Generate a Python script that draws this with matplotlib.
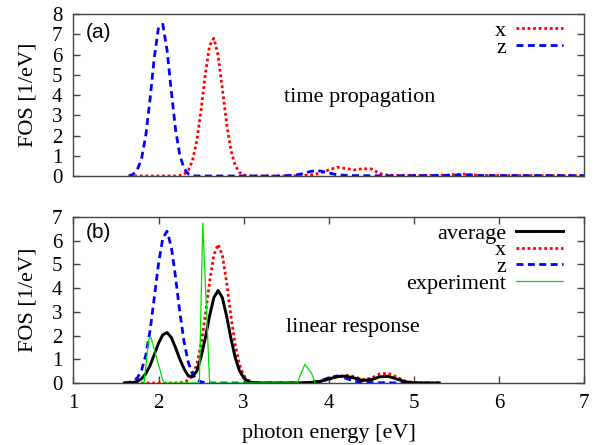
import matplotlib
matplotlib.use("Agg")
from matplotlib import pyplot as plt

plt.rcParams['font.family'] = ['Liberation Serif', 'DejaVu Serif']

# (a) time propagation
e_top = [1.65, 1.70, 1.75, 1.80, 1.85, 1.90, 1.95, 2.00, 2.05, 2.10, 2.15, 2.20,
         2.25, 2.30, 2.35, 2.40, 2.45, 2.50, 2.55, 2.60, 2.65, 2.70, 2.75, 2.80,
         2.85, 2.90, 2.95, 3.00, 3.05, 3.10,
         3.2, 3.3, 3.4, 3.5, 3.6, 3.7, 3.8, 3.9, 4.0, 4.1, 4.2, 4.3, 4.4, 4.5,
         4.6, 4.7, 4.8, 5.0, 5.2, 5.4, 5.5, 5.6, 5.7, 5.8, 6.0, 6.2, 6.4, 6.6,
         6.8, 7.0]
top_x = [0, 0, 0, 0, 0, 0, 0, 0, 0, 0, 0, 0,
         0.02, 0.09, 0.28, 0.77, 1.74, 3.26, 5.03, 6.43, 6.80, 5.96, 4.32, 2.60,
         1.29, 0.53, 0.18, 0.05, 0.01, 0,
         0, 0, 0, 0, 0.01, 0.02, 0.06, 0.14, 0.30, 0.43, 0.37, 0.30, 0.36, 0.35,
         0.12, 0.04, 0.03, 0.03, 0.03, 0.05, 0.08, 0.09, 0.06, 0.03, 0.02, 0.02,
         0.02, 0.02, 0.02, 0.02]
top_z = [0, 0.08, 0.30, 0.85, 1.99, 3.78, 5.85, 7.34, 7.49, 6.22, 4.20, 2.30,
         1.03, 0.37, 0.10, 0.02, 0, 0, 0, 0, 0, 0, 0, 0,
         0, 0, 0, 0, 0, 0,
         0, 0, 0, 0.02, 0.04, 0.12, 0.24, 0.25, 0.15, 0.06, 0.03, 0.02, 0.02, 0.01,
         0.01, 0.01, 0.01, 0.02, 0.02, 0.03, 0.05, 0.06, 0.04, 0.02, 0.02, 0.02,
         0.02, 0.02, 0.02, 0.02]

# (b) linear response
e_bot = [1.60, 1.65, 1.70, 1.75, 1.80, 1.85, 1.90, 1.95, 2.00, 2.05, 2.10, 2.15,
         2.20, 2.25, 2.30, 2.35, 2.40, 2.45, 2.50, 2.55, 2.60, 2.65, 2.70, 2.75,
         2.80, 2.85, 2.90, 2.95, 3.00, 3.05, 3.10, 3.15, 3.20,
         3.3, 3.4, 3.5, 3.6, 3.7, 3.8, 3.9, 4.0, 4.1, 4.2, 4.3, 4.4, 4.5, 4.6,
         4.7, 4.8, 4.9, 5.0, 5.1, 5.2, 5.3]
bot_avg = [0, 0.01, 0.02, 0.07, 0.18, 0.39, 0.73, 1.20, 1.68, 2.03, 2.13, 1.92,
           1.49, 1.01, 0.60, 0.30, 0.27, 0.50, 1.10, 1.90, 2.83, 3.60, 3.90, 3.60,
           2.83, 1.90, 1.09, 0.53, 0.22, 0.08, 0.02, 0.01, 0,
           0, 0, 0, 0, 0.01, 0.03, 0.07, 0.17, 0.27, 0.29, 0.21, 0.11, 0.14, 0.26,
           0.28, 0.17, 0.05, 0.01, 0, 0, 0]
bot_x = [0, 0, 0, 0, 0, 0, 0, 0, 0, 0, 0, 0,
         0, 0.01, 0.035, 0.12, 0.33, 0.79, 1.63, 2.85, 4.25, 5.40, 5.85, 5.40,
         4.25, 2.85, 1.63, 0.79, 0.33, 0.12, 0.035, 0.01, 0,
         0, 0, 0, 0, 0.01, 0.03, 0.07, 0.15, 0.26, 0.33, 0.27, 0.15, 0.20, 0.38,
         0.41, 0.25, 0.08, 0.02, 0.01, 0, 0]
bot_z = [0, 0.02, 0.07, 0.21, 0.53, 1.17, 2.20, 3.60, 5.03, 6.10, 6.40, 5.75,
         4.47, 3.00, 1.74, 0.87, 0.37, 0.14, 0.05, 0.01, 0, 0, 0, 0,
         0, 0, 0, 0, 0, 0, 0, 0, 0,
         0, 0, 0, 0, 0, 0.02, 0.08, 0.22, 0.30, 0.20, 0.08, 0.03, 0.02, 0.01,
         0.01, 0, 0, 0, 0, 0, 0]

e_exp = [1.80, 1.83, 1.885, 1.91, 2.06, 2.20, 2.40, 2.48, 2.52, 2.60, 2.62,
         2.80, 3.00, 3.20, 3.40, 3.63, 3.72, 3.80, 3.84]
exp_v = [0, 0, 1.86, 1.93, 0, 0, 0, 0, 6.75, 0.05, 0,
         0, 0, 0, 0, 0, 0.79, 0.41, 0]

red = '#ff0000'
blue = '#0000ff'
green = '#00dd00'
edge = '#444444'

fig = plt.figure(figsize=(6.02, 4.45), dpi=100)
ax1 = fig.add_axes([0.122, 0.6045, 0.848, 0.364])
ax2 = fig.add_axes([0.122, 0.1393, 0.848, 0.373])

leg_kw = dict(loc='upper right', frameon=False, markerfirst=False, fontsize=16,
              handlelength=2.1, handletextpad=0.45, labelspacing=-0.17,
              borderpad=0, borderaxespad=0)

ax1.plot(e_top, top_x, color=red, lw=2, ls=(0, (1, 1)), label='x')
ax1.plot(e_top, top_z, color=blue, lw=2, ls=(0, (2.5, 1.6)), label='z')
ax1.set_xlim(1, 7)
ax1.set_ylim(0, 8)
ax1.set_xticks([])
ax1.set_yticks(range(0, 9))
ax1.text(1.15, 7.1, '(a)', family=['Liberation Sans', 'DejaVu Sans'],
         fontsize=15, va='center', ha='left')
ax1.text(4.37, 3.9, 'time propagation', fontsize=16, ha='center', va='center')
ax1.set_ylabel('FOS [1/eV]', fontsize=16, labelpad=10)
ax1.legend(bbox_to_anchor=(0.959, 0.962), **leg_kw)

ax2.plot(e_bot, bot_x, color=red, lw=2, ls=(0, (1, 1)), label='x', zorder=2)
ax2.plot(e_bot, bot_z, color=blue, lw=2, ls=(0, (2.5, 1.6)), label='z', zorder=2)
ax2.plot(e_bot, bot_avg, color='black', lw=2.1, label='average', zorder=3)
ax2.plot(e_exp, exp_v, color=green, lw=0.9, label='experiment', zorder=4)
ax2.set_xlim(1, 7)
ax2.set_ylim(0, 7)
ax2.set_xticks(range(1, 8))
ax2.set_yticks(range(0, 8))
ax2.text(1.15, 6.33, '(b)', family=['Liberation Sans', 'DejaVu Sans'],
         fontsize=15, va='center', ha='left')
ax2.text(4.28, 2.36, 'linear response', fontsize=16, ha='center', va='center')
ax2.set_ylabel('FOS [1/eV]', fontsize=16, labelpad=10)
ax2.set_xlabel('photon energy [eV]', fontsize=16, labelpad=8)
h, l = ax2.get_legend_handles_labels()
order = [2, 0, 1, 3]
ax2.legend([h[i] for i in order], [l[i] for i in order],
           bbox_to_anchor=(0.959, 0.964), **leg_kw)

for ax in (ax1, ax2):
    for s in ax.spines.values():
        s.set_color(edge)
        s.set_linewidth(1)
    ax.tick_params(direction='in', length=5, width=1, color=edge,
                   labelsize=15, right=True, top=True, pad=8)

fig.savefig('out.png', dpi=100)
